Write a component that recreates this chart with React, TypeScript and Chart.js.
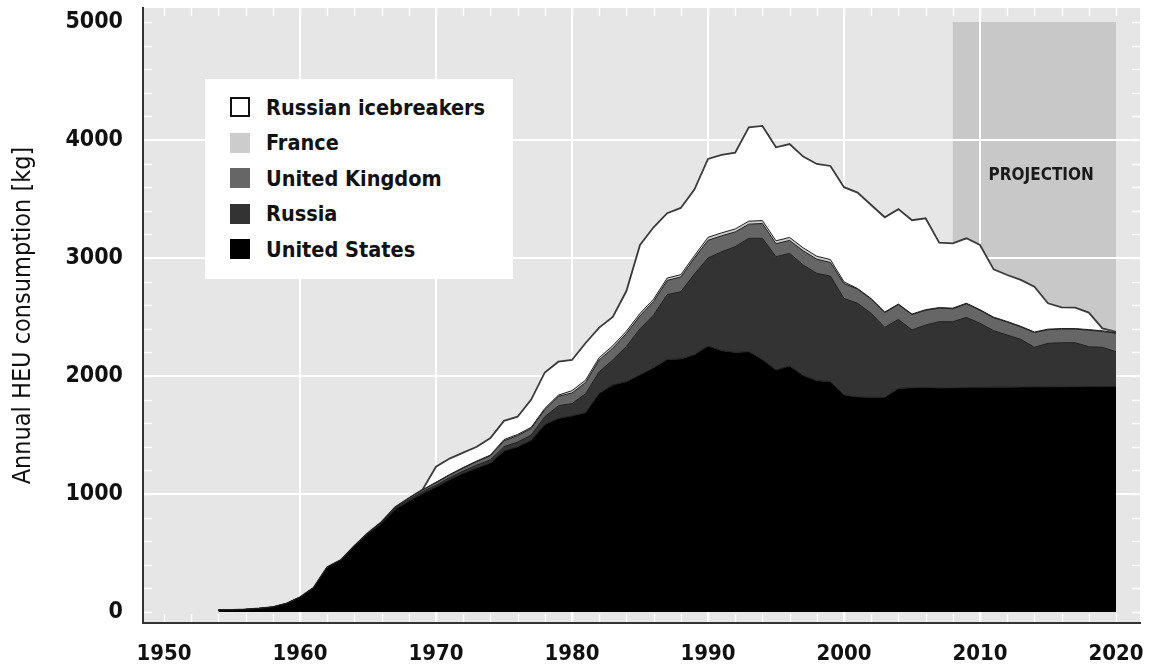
import React, { useEffect, useRef } from "react";
import { Chart, registerables } from "chart.js";

Chart.register(...registerables);

// ---------------- DATA ----------------
const years = [
  1954, 1955, 1956, 1957, 1958, 1959, 1960, 1961, 1962, 1963, 1964, 1965, 1966, 1967, 1968, 1969,
  1970, 1971, 1972, 1973, 1974, 1975, 1976, 1977, 1978, 1979, 1980, 1981, 1982, 1983, 1984, 1985,
  1986, 1987, 1988, 1989, 1990, 1991, 1992, 1993, 1994, 1995, 1996, 1997, 1998, 1999, 2000, 2001,
  2002, 2003, 2004, 2005, 2006, 2007, 2008, 2009, 2010, 2011, 2012, 2013, 2014, 2015, 2016, 2017,
  2018, 2019, 2020,
];

const unitedStates = [
  17, 18, 22, 30, 42, 72, 125, 205, 380, 440, 560, 665, 750, 870, 940, 1005,
  1060, 1120, 1175, 1220, 1262, 1365, 1400, 1455, 1590, 1640, 1662, 1690, 1853, 1924, 1952, 2010,
  2070, 2140, 2145, 2180, 2254, 2215, 2200, 2206, 2140, 2051, 2085, 2005, 1960, 1952, 1839, 1822,
  1819, 1819, 1895, 1900, 1904, 1898, 1900, 1902, 1903, 1905, 1905, 1906, 1907, 1908, 1908, 1909,
  1910, 1910, 1910,
];

const russia = [
  0, 0, 0, 0, 0, 0, 0, 0, 0, 0, 0, 5, 8, 10, 12, 15,
  15, 18, 20, 25, 28, 36, 40, 45, 65, 108, 104, 160, 183, 212, 298, 390,
  447, 550, 569, 684, 746, 838, 896, 961, 1027, 960, 954, 936, 910, 895, 819, 794,
  712, 593, 585, 490, 528, 562, 560, 595, 544, 479, 442, 405, 336, 369, 374, 373,
  338, 333, 296,
];

const unitedKingdom = [
  0, 0, 0, 0, 0, 0, 0, 0, 0, 0, 0, 0, 5, 8, 12, 15,
  20, 22, 25, 30, 35, 50, 55, 55, 60, 80, 90, 95, 100, 100, 110, 110,
  115, 120, 125, 135, 150, 135, 125, 120, 125, 110, 110, 120, 120, 115, 125, 120,
  120, 125, 125, 130, 125, 115, 110, 115, 110, 110, 110, 105, 125, 115, 115, 115,
  140, 135, 155,
];

const france = [
  0, 0, 0, 0, 0, 0, 0, 0, 0, 0, 0, 0, 0, 0, 0, 0,
  5, 5, 5, 5, 5, 10, 10, 10, 10, 10, 20, 20, 20, 20, 20, 20,
  20, 20, 20, 20, 25, 25, 25, 25, 25, 25, 25, 25, 25, 25, 15, 5,
  5, 5, 5, 5, 5, 5, 5, 5, 5, 5, 5, 5, 5, 5, 5, 5,
  5, 5, 5,
];

const russianIcebreakers = [
  0, 0, 0, 0, 0, 0, 0, 0, 0, 0, 0, 0, 0, 0, 0, 0,
  131, 135, 125, 120, 144, 159, 150, 235, 305, 283, 260, 315, 254, 244, 340, 580,
  608, 550, 565, 561, 664, 660, 647, 795, 802, 792, 792, 773, 782, 793, 802, 813,
  793, 803, 804, 795, 774, 550, 549, 550, 548, 405, 394, 393, 384, 219, 180, 177,
  144, 21, 8,
];

const xTickYears = [1950, 1960, 1970, 1980, 1990, 2000, 2010, 2020];
const yTickValues = [0, 1000, 2000, 3000, 4000, 5000];

const projectionStartYear = 2008;
const projectionEndYear = 2020;
const projectionTopValue = 5000;
const projectionLabel = "PROJECTION";

const seriesNames = ["United States", "Russia", "United Kingdom", "France", "Russian icebreakers"];
const yAxisTitle = "Annual HEU consumption [kg]";

// ---------------- STYLE ----------------
const FONT = "'DejaVu Sans Condensed', 'DejaVu Sans', sans-serif";
const seriesColors = ["#000000", "#333333", "#666666", "#cccccc", "#ffffff"];
const PLOT_BG = "#e6e6e6";
const PROJ_BG = "#c8c8c8";

const X_MIN = 1948.456;
const X_MAX = 2021.765;
const Y_MIN = -93.2;
const Y_MAX = 5118.6;

const backgroundPlugin = {
  id: "plotBackground",
  beforeDraw(chart: any) {
    const { ctx, chartArea, scales } = chart;
    ctx.save();
    ctx.fillStyle = PLOT_BG;
    ctx.fillRect(chartArea.left, chartArea.top, chartArea.right - chartArea.left, chartArea.bottom - chartArea.top);
    const x0 = scales.x.getPixelForValue(projectionStartYear);
    const x1 = scales.x.getPixelForValue(projectionEndYear);
    const y0 = scales.y.getPixelForValue(projectionTopValue);
    const y1 = scales.y.getPixelForValue(0);
    ctx.fillStyle = PROJ_BG;
    ctx.fillRect(x0, y0, x1 - x0, y1 - y0);
    ctx.restore();
  },
};

const minorTicksPlugin = {
  id: "minorTicks",
  beforeDatasetsDraw(chart: any) {
    const { ctx, chartArea, scales } = chart;
    const len = 8;
    ctx.save();
    ctx.strokeStyle = "#ffffff";
    ctx.lineWidth = 1.5;
    ctx.beginPath();
    for (let v = 0; v <= 5000; v += 200) {
      const y = Math.round(scales.y.getPixelForValue(v)) + 0.5;
      ctx.moveTo(chartArea.left + 1, y);
      ctx.lineTo(chartArea.left + 1 + len, y);
      ctx.moveTo(chartArea.right - len, y);
      ctx.lineTo(chartArea.right, y);
    }
    for (let yr = 1950; yr <= 2020; yr += 2) {
      const x = Math.round(scales.x.getPixelForValue(yr)) + 0.5;
      ctx.moveTo(x, chartArea.top);
      ctx.lineTo(x, chartArea.top + len);
      ctx.moveTo(x, chartArea.bottom - 1 - len);
      ctx.lineTo(x, chartArea.bottom - 1);
    }
    ctx.stroke();
    ctx.restore();
  },
};

const projectionLabelPlugin = {
  id: "projectionLabel",
  afterDatasetsDraw(chart: any) {
    const { ctx, scales } = chart;
    const x = scales.x.getPixelForValue((projectionStartYear + projectionEndYear) / 2 + 0.5);
    const y = scales.y.getPixelForValue(3700);
    ctx.save();
    ctx.font = `bold 17px ${FONT}`;
    ctx.fillStyle = "#1a1a1a";
    ctx.textAlign = "center";
    ctx.textBaseline = "middle";
    ctx.fillText(projectionLabel, x, y);
    ctx.restore();
  },
};

const seriesValues = [unitedStates, russia, unitedKingdom, france, russianIcebreakers];

const zeroPadding = (scale: any) => {
  scale.paddingLeft = 0;
  scale.paddingRight = 0;
  scale.paddingTop = 0;
  scale.paddingBottom = 0;
};

export default function App() {
  const ref = useRef<HTMLCanvasElement>(null);

  useEffect(() => {
    const canvas = ref.current;
    if (!canvas) return;
    const datasets = seriesValues.map((vals, i) => ({
      label: seriesNames[i],
      data: years.map((yr, j) => ({ x: yr, y: vals[j] })),
      backgroundColor: seriesColors[i],
      borderColor: i === 4 ? "#3a3a3a" : "#1e1e1e",
      borderWidth: i === 4 ? 1.8 : 1,
      pointRadius: 0,
      tension: 0,
      fill: i === 0 ? "origin" : "-1",
    }));

    const chart = new Chart(canvas, {
      type: "line",
      data: { datasets },
      options: {
        responsive: false,
        animation: false,
        devicePixelRatio: 1,
        layout: { padding: { left: 0, top: 8, right: 9, bottom: 0 } },
        plugins: {
          legend: { display: false },
          tooltip: { enabled: false },
        },
        events: [],
        scales: {
          x: {
            type: "linear",
            min: X_MIN,
            max: X_MAX,
            afterBuildTicks: (scale: any) => {
              scale.ticks = xTickYears.map((v) => ({ value: v }));
            },
            afterFit: (scale: any) => {
              scale.height = 45;
              zeroPadding(scale);
            },
            ticks: {
              callback: (v: any) => String(v),
              font: { family: FONT, size: 22, weight: "bold" },
              color: "#111111",
              padding: 18,
              maxRotation: 0,
              autoSkip: false,
            },
            grid: {
              color: (c: any) => {
                const v = c.tick ? c.tick.value : 0;
                return v > 1950 && v < 2020 ? "#ffffff" : "rgba(0,0,0,0)";
              },
              lineWidth: 2,
              drawTicks: false,
            },
            border: { display: true, color: "#333333", width: 2 },
          },
          y: {
            type: "linear",
            stacked: true,
            min: Y_MIN,
            max: Y_MAX,
            afterBuildTicks: (scale: any) => {
              scale.ticks = yTickValues.map((v) => ({ value: v }));
            },
            afterFit: (scale: any) => {
              scale.width = 143;
              zeroPadding(scale);
            },
            ticks: {
              callback: (v: any) => String(v),
              font: { family: FONT, size: 23, weight: "bold" },
              color: "#111111",
              padding: 20,
            },
            grid: {
              color: (c: any) => {
                const v = c.tick ? c.tick.value : 0;
                return v > 0 && v < 5000 ? "#ffffff" : "rgba(0,0,0,0)";
              },
              lineWidth: 2,
              drawTicks: false,
            },
            border: { display: true, color: "#333333", width: 2 },
            title: {
              display: true,
              text: yAxisTitle,
              font: { family: FONT, size: 25 },
              color: "#111111",
              padding: { top: 8, bottom: 0 },
            },
          },
        },
      },
      plugins: [backgroundPlugin, minorTicksPlugin, projectionLabelPlugin],
    } as any);

    return () => chart.destroy();
  }, []);

  const legendOrder = [4, 3, 2, 1, 0];

  return (
    <div style={{ position: "fixed", left: 0, top: 0, width: 1149, height: 668, background: "#ffffff" }}>
      <canvas ref={ref} width={1149} height={668} style={{ display: "block", width: 1149, height: 668 }} />
      <div
        style={{
          position: "absolute",
          left: 205,
          top: 79,
          width: 308,
          height: 200,
          background: "#ffffff",
          fontFamily: FONT,
        }}
      >
        {legendOrder.map((si, i) => (
          <div
            key={seriesNames[si]}
            style={{
              position: "absolute",
              left: 25,
              top: 10 + i * 35.5,
              height: 36,
              display: "flex",
              alignItems: "center",
            }}
          >
            <span
              style={{
                display: "inline-block",
                width: 20,
                height: 20,
                boxSizing: "border-box",
                background: seriesColors[si],
                border: si === 4 ? "2px solid #111111" : "none",
              }}
            />
            <span
              style={{
                marginLeft: 16,
                fontSize: 21.5,
                fontWeight: "bold",
                color: "#111111",
                whiteSpace: "nowrap",
              }}
            >
              {seriesNames[si]}
            </span>
          </div>
        ))}
      </div>
    </div>
  );
}
